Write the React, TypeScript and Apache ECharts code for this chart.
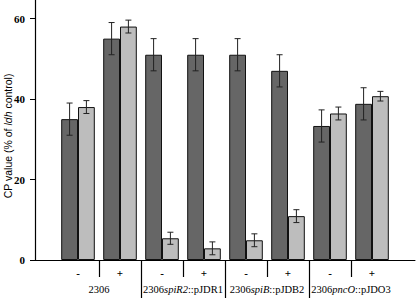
import React, { useEffect, useRef } from "react";
import * as echarts from "echarts";

// Sub-categories (first and last are blank padding bands)
const signs = ["", "-", "+", "-", "+", "-", "+", "-", "+", ""];
// Strain groups: [prefix, italic part, suffix]
const groups: [string, string, string][] = [
  ["", "", ""],
  ["2306", "", ""],
  ["2306", "spiR2", "::pJDR1"],
  ["2306", "spiB", "::pJDB2"],
  ["2306", "pncO", "::pJDO3"],
  ["", "", ""],
];
const darkValues = [35, 55, 51, 51, 51, 47, 33.3, 38.8];
const darkErrors = [4, 4, 4, 4, 4, 4, 4, 4];
const lightValues = [38, 58, 5.4, 2.9, 4.9, 10.9, 36.4, 40.7];
const lightErrors = [1.6, 1.6, 1.5, 1.6, 1.6, 1.6, 1.6, 1.2];
const yTicks = [0, 20, 40, 60];

const SERIF = "Liberation Serif";
const SANS = "Liberation Sans";

export default function App() {
  const ref = useRef<HTMLDivElement>(null);
  useEffect(() => {
    if (!ref.current) return;
    const chart = echarts.init(ref.current, null, { renderer: "svg" });
    const yMax = 64.6;
    const pad = (arr: number[]) => ["-", ...arr, "-"];
    const errData = (vals: number[], errs: number[]) =>
      vals.map((v, i) => [i + 1, v, errs[i]]);
    const makeErr = (frac: number) => (params: any, api: any) => {
      const idx = api.value(0);
      const v = api.value(1);
      const e = api.value(2);
      const top = api.coord([idx, v + e]);
      const bot = api.coord([idx, v - e]);
      const bw = api.size([1, 0])[0];
      const cx = top[0] + frac * bw;
      const cap = 3;
      const style = { stroke: "#222", lineWidth: 1 };
      return {
        type: "group",
        children: [
          { type: "line", shape: { x1: cx, y1: top[1], x2: cx, y2: bot[1] }, style },
          { type: "line", shape: { x1: cx - cap, y1: top[1], x2: cx + cap, y2: top[1] }, style },
          { type: "line", shape: { x1: cx - cap, y1: bot[1], x2: cx + cap, y2: bot[1] }, style },
        ],
      };
    };
    const hiddenY = (gi: number) => ({
      type: "value",
      gridIndex: gi,
      min: 0,
      max: yMax,
      show: false,
    });
    chart.setOption({
      animation: false,
      grid: [
        { left: 35, width: 380, top: 0, bottom: 38, outerBoundsMode: "none", containLabel: false },
        { left: 15, width: 420, top: 0, bottom: 38, outerBoundsMode: "none", containLabel: false },
        { left: -27, width: 504, top: 0, bottom: 38, outerBoundsMode: "none", containLabel: false },
      ],
      xAxis: [
        {
          type: "value",
          gridIndex: 0,
          min: 0,
          max: 1,
          axisLine: { show: true, onZero: false, lineStyle: { color: "#000", width: 1 } },
          axisTick: { show: false },
          axisLabel: { show: false },
          splitLine: { show: false },
        },
        {
          type: "category",
          gridIndex: 1,
          data: signs,
          axisLine: { show: false },
          axisTick: {
            show: true,
            length: 17,
            interval: (i: number) => i === 2 || i === 4 || i === 6 || i === 8,
            lineStyle: { color: "#000", width: 1.2 },
          },
          axisLabel: {
            interval: 0,
            margin: 7,
            fontFamily: SERIF,
            fontSize: 11,
            fontWeight: "bold",
            color: "#000",
          },
        },
        {
          type: "category",
          gridIndex: 2,
          data: groups.map((g) => g.join("")),
          axisLine: { show: false },
          axisTick: {
            show: true,
            length: 40,
            interval: (i: number) => i === 2 || i === 3 || i === 4,
            lineStyle: { color: "#000", width: 1.2 },
          },
          axisLabel: {
            interval: 0,
            margin: 24,
            fontFamily: SERIF,
            fontSize: 10.5,
            color: "#000",
            formatter: (_v: string, i: number) => {
              const g = groups[i];
              if (!g || !g[0]) return "";
              return g[0] + (g[1] ? "{i|" + g[1] + "}" : "") + g[2];
            },
            rich: {
              i: { fontFamily: SERIF, fontSize: 10.5, fontStyle: "italic", color: "#000" },
            },
          },
        },
      ],
      yAxis: [
        {
          type: "value",
          gridIndex: 0,
          min: 0,
          max: yMax,
          interval: 20,
          name: "CP value (% of {i|ldh} control)",
          nameLocation: "middle",
          nameRotate: 90,
          nameGap: 22,
          nameMoveOverlap: false,
          nameTextStyle: {
            fontFamily: SANS,
            fontSize: 10.5,
            color: "#000",
            padding: [0, 12, 0, 0],
            rich: {
              i: { fontFamily: SANS, fontSize: 10.5, fontStyle: "italic", color: "#000" },
            },
          },
          axisLine: { show: true, lineStyle: { color: "#000", width: 1.2 } },
          axisTick: { show: true, length: 5, lineStyle: { color: "#000" } },
          axisLabel: {
            margin: 10,
            showMaxLabel: false,
            fontFamily: SERIF,
            fontSize: 11,
            fontWeight: "bold",
            color: "#000",
            formatter: (v: number) => (yTicks.includes(v) ? String(v) : ""),
          },
          splitLine: { show: false },
        },
        hiddenY(1),
        hiddenY(2),
      ],
      series: [
        {
          type: "bar",
          xAxisIndex: 1,
          yAxisIndex: 1,
          data: pad(darkValues),
          barWidth: "40%",
          barGap: "0%",
          itemStyle: { color: "#666666", borderColor: "#111", borderWidth: 1 },
          z: 2,
        },
        {
          type: "bar",
          xAxisIndex: 1,
          yAxisIndex: 1,
          data: pad(lightValues),
          barWidth: "40%",
          barGap: "0%",
          itemStyle: { color: "#bdbdbd", borderColor: "#111", borderWidth: 1 },
          z: 2,
        },
        {
          type: "custom",
          xAxisIndex: 1,
          yAxisIndex: 1,
          data: errData(darkValues, darkErrors),
          renderItem: makeErr(-0.2),
          z: 5,
        },
        {
          type: "custom",
          xAxisIndex: 1,
          yAxisIndex: 1,
          data: errData(lightValues, lightErrors),
          renderItem: makeErr(0.2),
          z: 5,
        },
      ],
    });
    return () => chart.dispose();
  }, []);
  return (
    <div
      ref={ref}
      style={{ position: "fixed", left: 0, top: 0, width: 416, height: 298, background: "#fff" }}
    />
  );
}
